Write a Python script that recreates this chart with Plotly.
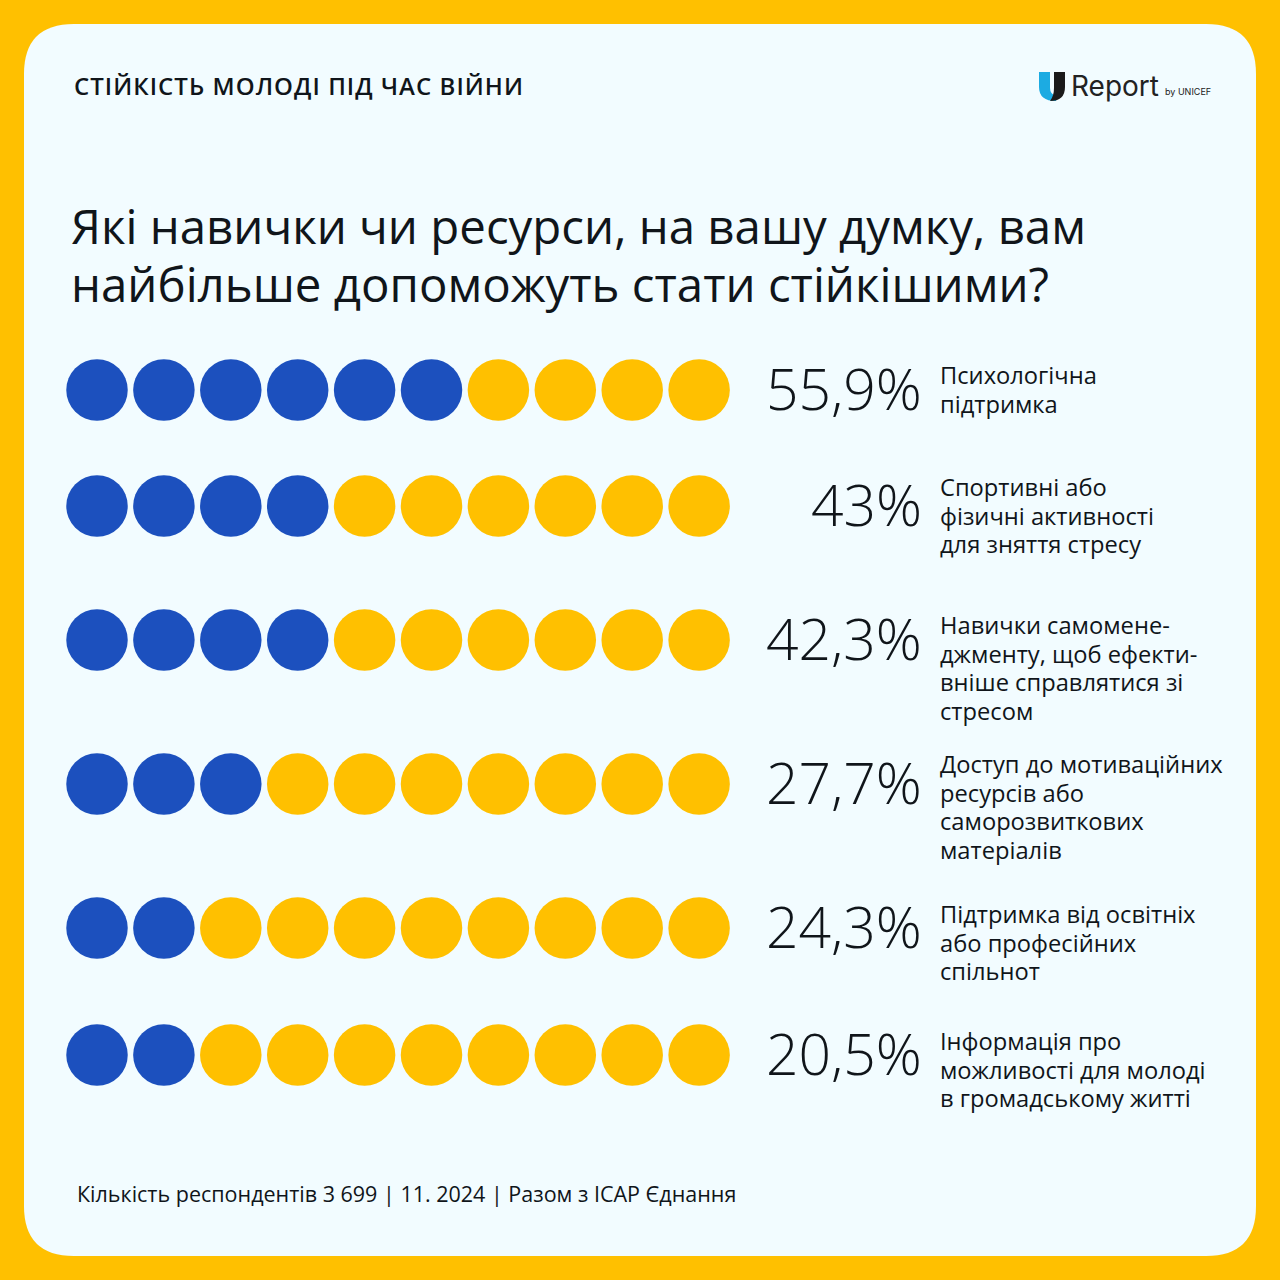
import plotly.graph_objects as go

header = "СТІЙКІСТЬ МОЛОДІ ПІД ЧАС ВІЙНИ"
title = "Які навички чи ресурси, на вашу думку, вам<br>найбільше допоможуть стати стійкішими?"
footer = "Кількість респондентів 3 699 | 11. 2024 | Разом з ICAP Єднання"
categories = [
    "Психологічна<br>підтримка",
    "Спортивні або<br>фізичні активності<br>для зняття стресу",
    "Навички самомене-<br>джменту, щоб ефекти-<br>вніше справлятися зі<br>стресом",
    "Доступ до мотиваційних<br>ресурсів або<br>саморозвиткових<br>матеріалів",
    "Підтримка від освітніх<br>або професійних<br>спільнот",
    "Інформація про<br>можливості для молоді<br>в громадському житті",
]
value_labels = ["55,9%", "43%", "42,3%", "27,7%", "24,3%", "20,5%"]
values = [55.9, 43, 42.3, 27.7, 24.3, 20.5]

BLUE, YELLOW, INK, CARD = "#1C50BE", "#FFC000", "#10151A", "#F2FCFF"
FONT = "Open Sans"
row_y = [390, 506, 640, 784, 928, 1055]
text_top = [356.5, 468.5, 606.5, 745.5, 895.5, 1022.5]
DOTS = 10
X0, PITCH = 97, 66.9


def rounded(x0, y0, x1, y1, r):
    return (f"M{x0+r},{y0} L{x1-r},{y0} Q{x1},{y0} {x1},{y0+r} L{x1},{y1-r} Q{x1},{y1} {x1-r},{y1} "
            f"L{x0+r},{y1} Q{x0},{y1} {x0},{y1-r} L{x0},{y0+r} Q{x0},{y0} {x0+r},{y0} Z")


fig = go.Figure()
for colour, test in ((BLUE, True), (YELLOW, False)):
    xs, ys = [], []
    for y, v in zip(row_y, values):
        filled = round(v / 10)
        for i in range(DOTS):
            if (i < filled) == test:
                xs.append(X0 + PITCH * i)
                ys.append(y)
    fig.add_trace(go.Scatter(x=xs, y=ys, mode="markers", hoverinfo="skip", showlegend=False,
                             marker=dict(size=61.5, color=colour, line=dict(width=0))))

shapes = [
    dict(type="path", path=rounded(24, 24, 1256, 1256, 50), fillcolor=CARD, line_width=0, layer="below"),
    # logo: two halves of the U
    dict(type="path", path="M1039,72 L1050,72 L1050,88 Q1050,94 1056,96 L1056,101 Q1039,101 1039,87 Z",
         fillcolor="#1CABE2", line_width=0),
    dict(type="path", path="M1054,72 L1065,72 L1065,87 Q1065,101 1050,101 Q1054,96 1054,88 Z",
         fillcolor="#1A1A1A", line_width=0),
]


def note(x, y, text, size, anchor="left", weight=400, color=INK, family=FONT, yanchor="middle"):
    return dict(x=x, y=y, xref="x", yref="y", text=text, showarrow=False, xanchor=anchor, yanchor=yanchor,
                align=anchor, font=dict(family=family, size=size, color=color, weight=weight))


ann = [
    note(72, 85, header, 24, weight=600),
    note(69, 191, title, 47.4, yanchor="top"),
    note(75, 1193, footer, 21.5),
    note(1069, 86, "Report", 28, color="#222222", family="Inter"),
    note(1163, 91, "by UNICEF", 9, color="#222222", family="Inter"),
]
for y, top, lab, cat in zip(row_y, text_top, value_labels, categories):
    ann.append(note(924, y - 2, lab, 57, anchor="right", weight=300))
    ann.append(note(938, top, cat, 23.7, yanchor="top"))

fig.update_layout(
    width=1280, height=1280, margin=dict(l=0, r=0, t=0, b=0),
    paper_bgcolor=YELLOW, plot_bgcolor="rgba(0,0,0,0)",
    xaxis=dict(range=[0, 1280], visible=False, fixedrange=True),
    yaxis=dict(range=[1280, 0], visible=False, fixedrange=True),
    shapes=shapes, annotations=ann,
)
# Tighter line spacing than Plotly's fixed 1.3em, and the tracked header.
fig.write_html("out.html", config={"displayModeBar": False},
               post_script="document.body.style.margin='0';document.body.style.overflow='hidden';"
                           "document.querySelectorAll('.annotation-text').forEach(function(t){"
                           "if(t.textContent.indexOf('СТІЙКІСТЬ')===0){t.style.letterSpacing='1.05px';}"
                           "var big=parseFloat(t.style.fontSize)>40;var lh=big?58:28.6;"
                           "t.querySelectorAll('tspan.line').forEach(function(s,i){s.setAttribute('dy',(i*lh)+'px');});});")
